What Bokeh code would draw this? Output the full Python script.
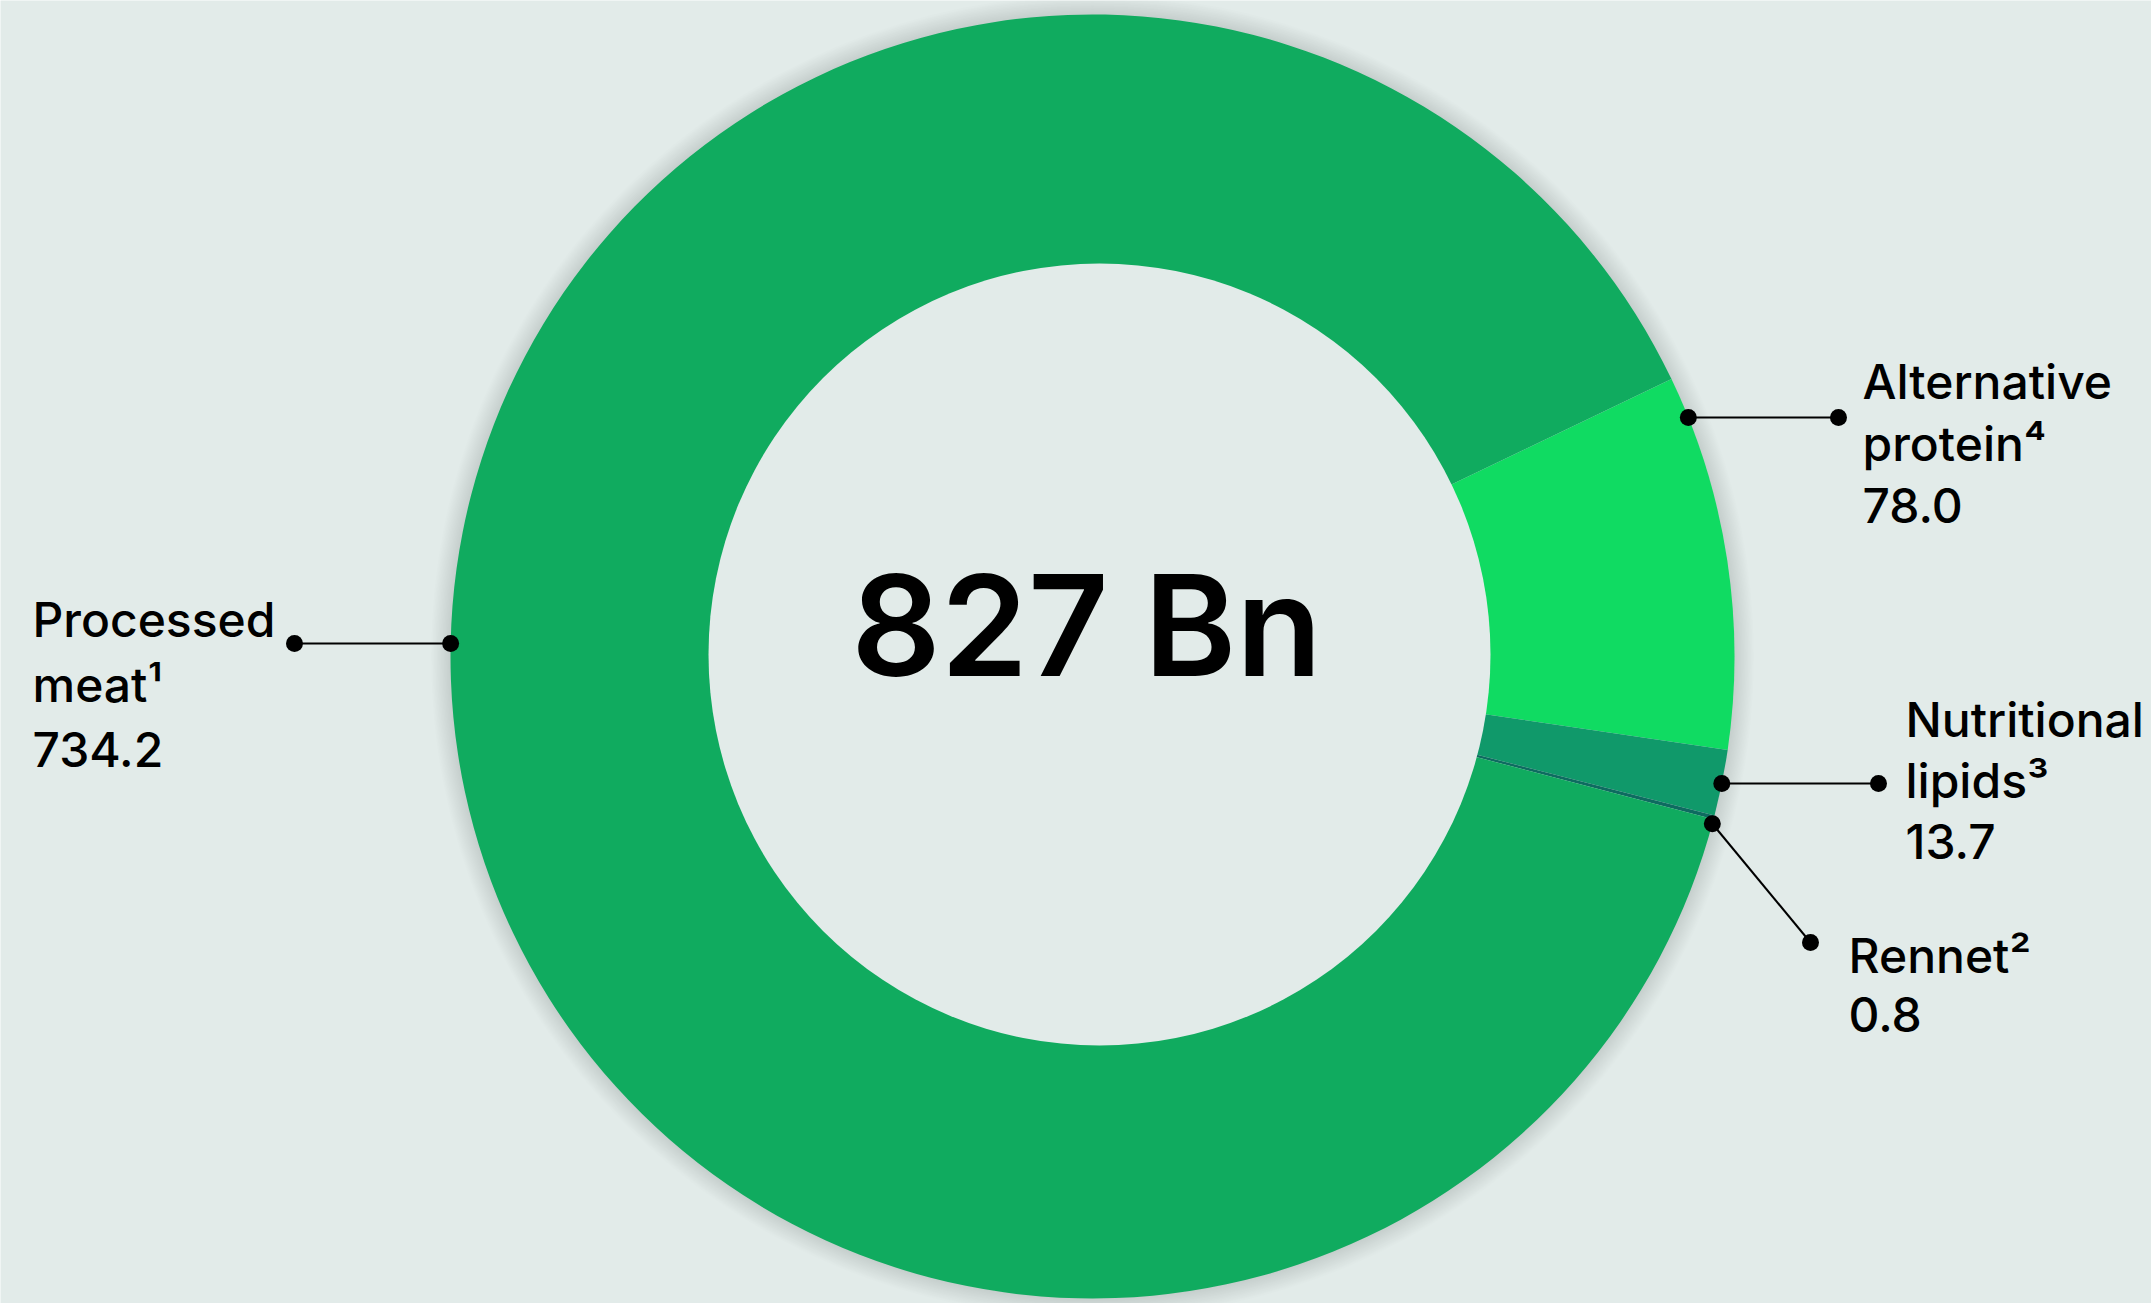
import math
from bokeh.plotting import figure
from bokeh.models import Range1d, ColumnDataSource
from bokeh.core.properties import value
from bokeh.embed import file_html
from bokeh.resources import INLINE

# ---- data (clockwise order starting at the top-right boundary) ----
categories = ["Alternative protein", "Nutritional lipids", "Rennet", "Processed meat"]
footnotes = ["4", "3", "2", "1"]
values = [78.0, 13.7, 0.8, 734.2]
colors = ["#10DB62", "#10996A", "#0E6B60", "#10AB5F"]
total_label = "827 Bn"

# ---- layout (image pixel coordinates) ----
W, H = 2151, 1303
BG = "#E2EBE9"
CX, CY = 1092, 656          # outer circle centre
HX, HY = 1099, 654          # hole centre
R_OUT, R_IN = 642, 391
START_DEG = 25.6            # boundary between processed meat and alternative protein
FONT = value("'Inter Medium', Inter")
FONT_BIG = value("'Inter SemiBold', 'Inter Medium', Inter")
BASE_FIX = 0.375            # baseline correction (fraction of font size)

# label layout: anchor x, first baseline y, ring-dot angle, outer dot position
label_x = [1862, 1905, 1848, 32]
label_y0 = [399, 737, 973, 637]
line_gap = [62, 61, 59, 65]
dot_angle = [21.86, -11.41, -15.1, 178.84]
dot_end_x = [1838, 1878, 1810, 294]
dot_end_y = [None, None, 942, None]   # None -> horizontal leader

p = figure(width=W, height=H, output_backend="svg", toolbar_location=None,
           x_range=Range1d(0, W), y_range=Range1d(-H, 0),
           x_axis_type=None, y_axis_type=None, min_border=0,
           background_fill_color=BG, border_fill_color=BG, outline_line_color=None)
p.grid.visible = False

# soft shadow around the ring
for k in range(14):
    p.annulus(x=CX, y=-CY, inner_radius=R_OUT - 1, outer_radius=R_OUT + 1.4 * (k + 1),
              fill_color="#000000", fill_alpha=0.007, line_color=None)

# wedges
total = sum(values)
ends, starts = [], []
a = math.radians(START_DEG)
for v in values:
    span = v / total * 2 * math.pi
    ends.append(a)
    starts.append(a - span)
    a -= span
src = ColumnDataSource(dict(start=starts, end=ends, color=colors))
p.wedge(x=CX, y=-CY, radius=R_OUT, start_angle="start", end_angle="end",
        fill_color="color", line_color=None, source=src)
# hole
p.circle(x=[HX], y=[-HY], radius=R_IN, fill_color=BG, line_color=None)

# centre total
fs_big = 140
p.text(x=[1086], y=[-(677 - BASE_FIX * fs_big)], text=[total_label], text_font=FONT_BIG,
       text_font_size=f"{fs_big}px", text_align="center", text_baseline="alphabetic",
       text_color="#000000")

SUP = {"1": "\u00b9", "2": "\u00b2", "3": "\u00b3", "4": "\u2074"}

# labels and leader lines
fs = 48
for i, name in enumerate(categories):
    words = name.split(" ")
    if len(words) > 1:
        lines = words[:-1] + [words[-1] + SUP[footnotes[i]]]
    else:
        lines = [words[0] + SUP[footnotes[i]]]
    lines = lines + [f"{values[i]:.1f}"]
    ys = [-(label_y0[i] + j * line_gap[i] - BASE_FIX * fs) for j in range(len(lines))]
    p.text(x=[label_x[i]] * len(lines), y=ys, text=lines, text_font=FONT,
           text_font_size=f"{fs}px", text_align="left", text_baseline="alphabetic",
           text_color="#000000")
    ang = math.radians(dot_angle[i])
    x0, y0 = CX + R_OUT * math.cos(ang), CY - R_OUT * math.sin(ang)
    x1 = dot_end_x[i]
    y1 = y0 if dot_end_y[i] is None else dot_end_y[i]
    p.line(x=[x0, x1], y=[-y0, -y1], line_color="#000000", line_width=2)
    p.scatter(x=[x0, x1], y=[-y0, -y1], size=17, fill_color="#000000", line_color=None)

open("out.html", "w").write(file_html(p, INLINE, title="827 Bn"))
